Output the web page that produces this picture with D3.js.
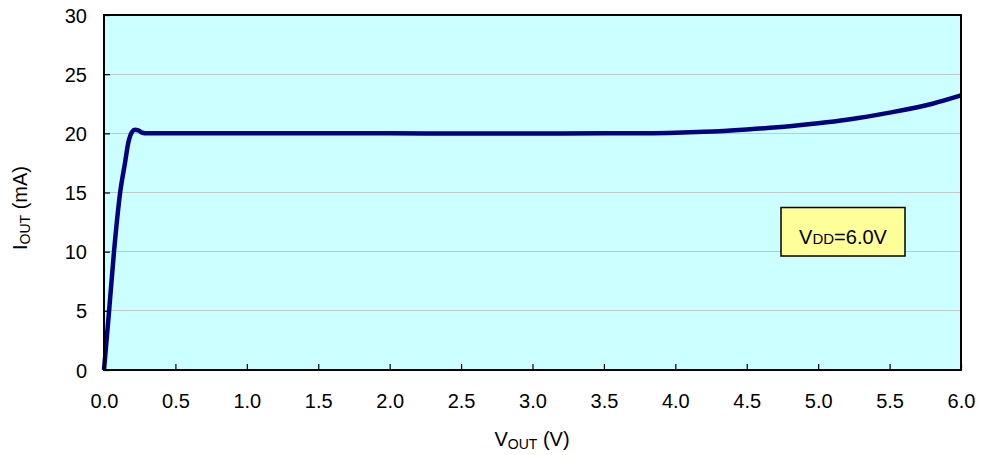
<!DOCTYPE html>
<html>
<head>
<meta charset="utf-8">
<script src="https://cdn.jsdelivr.net/npm/d3@7"></script>
<style>
  html, body { margin: 0; padding: 0; background: #fff; }
  svg { display: block; font-family: "Liberation Sans", Arial, sans-serif; }
</style>
</head>
<body>
<svg id="chart" width="981" height="455"></svg>
<script>
const vout = [0, 0.035, 0.07, 0.112, 0.147, 0.17, 0.195, 0.217, 0.24, 0.27, 0.3, 0.5, 1.0, 1.5, 2.0, 2.5, 3.0, 3.5, 3.8, 4.0, 4.2, 4.5, 4.8, 5.0, 5.2, 5.5, 5.8, 6.0];
const iout = [0, 4.9, 10.0, 14.9, 17.5, 19.2, 20.1, 20.3, 20.25, 20.05, 20.0, 20.0, 20.0, 20.0, 20.0, 19.98, 19.98, 20.0, 20.01, 20.05, 20.13, 20.33, 20.6, 20.85, 21.15, 21.75, 22.5, 23.2];
const xTicks = [0, 0.5, 1.0, 1.5, 2.0, 2.5, 3.0, 3.5, 4.0, 4.5, 5.0, 5.5, 6.0];
const yTicks = [0, 5, 10, 15, 20, 25, 30];
const legendMain = "V", legendSub = "DD", legendRest = "=6.0V";

const svg = d3.select("#chart");
const L = 104, R = 961, T = 15, B = 370;
const x = d3.scaleLinear().domain([0, 6]).range([L, R]);
const y = d3.scaleLinear().domain([0, 30]).range([B, T]);

// plot background
svg.append("rect").attr("x", L).attr("y", T).attr("width", R - L).attr("height", B - T).attr("fill", "#ccffff");

// grid lines
svg.append("g").selectAll("line").data(yTicks.filter(d => d > 0 && d < 30)).join("line")
  .attr("x1", L).attr("x2", R).attr("y1", d => y(d)).attr("y2", d => y(d))
  .attr("stroke", "#c0c8c8").attr("stroke-width", 1).attr("shape-rendering", "crispEdges");

// axes with inward ticks
const xAxis = d3.axisBottom(x).tickValues(xTicks).tickSizeInner(-6).tickSizeOuter(0).tickFormat(d3.format(".1f"));
const gx = svg.append("g").attr("transform", `translate(0,${B})`).call(xAxis);
gx.select(".domain").remove();
gx.selectAll(".tick line").attr("stroke", "#000").attr("stroke-width", 1.2);
gx.selectAll(".tick text").attr("y", 0).attr("dy", 0).attr("transform", "translate(0,38)")
  .attr("font-size", 20).attr("fill", "#000").attr("font-family", "Liberation Sans, Arial, sans-serif");

const yAxis = d3.axisLeft(y).tickValues(yTicks).tickSizeInner(-6).tickSizeOuter(0);
const gy = svg.append("g").attr("transform", `translate(${L},0)`).call(yAxis);
gy.select(".domain").remove();
gy.selectAll(".tick line").attr("stroke", "#000").attr("stroke-width", 1.2);
gy.selectAll(".tick text").attr("x", -17).attr("dy", "0.35em")
  .attr("font-size", 20).attr("fill", "#000").attr("font-family", "Liberation Sans, Arial, sans-serif");

// data line
const line = d3.line().x((d, i) => x(vout[i])).y(d => y(d)).curve(d3.curveMonotoneX);
svg.append("path").datum(iout).attr("d", line)
  .attr("fill", "none").attr("stroke", "#000080").attr("stroke-width", 4.5)
  .attr("stroke-linejoin", "round").attr("stroke-linecap", "butt");

// frame
svg.append("rect").attr("x", L).attr("y", T).attr("width", R - L).attr("height", B - T)
  .attr("fill", "none").attr("stroke", "#000").attr("stroke-width", 2);

// legend box
const lg = svg.append("g");
lg.append("rect").attr("x", 781).attr("y", 207.5).attr("width", 124).attr("height", 48.5)
  .attr("fill", "#ffff99").attr("stroke", "#000").attr("stroke-width", 1.5);
const lt = lg.append("text").attr("x", 843).attr("y", 244).attr("text-anchor", "middle").attr("font-size", 20).attr("fill", "#000");
lt.append("tspan").text(legendMain);
lt.append("tspan").attr("font-size", 15).text(legendSub);
lt.append("tspan").text(legendRest);

// x title
const xt = svg.append("text").attr("x", 532).attr("y", 446).attr("text-anchor", "middle").attr("font-size", 20).attr("fill", "#000");
xt.append("tspan").text("V");
xt.append("tspan").attr("font-size", 14).attr("dy", 3).text("OUT");
xt.append("tspan").attr("dy", -3).text(" (V)");

// y title
const yt = svg.append("text").attr("transform", "translate(27,208) rotate(-90)").attr("text-anchor", "middle").attr("font-size", 20).attr("fill", "#000");
yt.append("tspan").text("I");
yt.append("tspan").attr("font-size", 14).attr("dy", 3).text("OUT");
yt.append("tspan").attr("dy", -3).text(" (mA)");
</script>
</body>
</html>
